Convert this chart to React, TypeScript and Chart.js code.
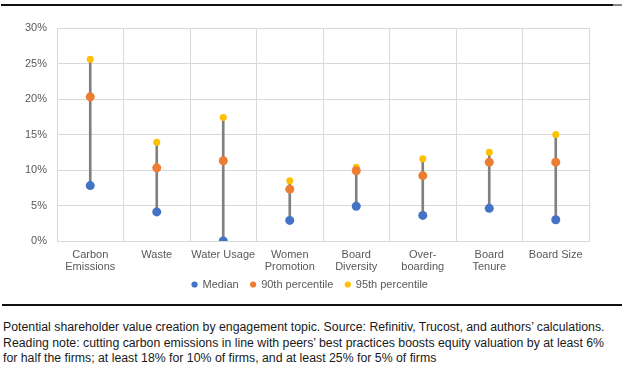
import React, { useEffect, useRef } from "react";
import { Chart, registerables } from "chart.js";

Chart.register(...registerables);

const categories: string[][] = [
  ["Carbon", "Emissions"],
  ["Waste"],
  ["Water Usage"],
  ["Women", "Promotion"],
  ["Board", "Diversity"],
  ["Over-", "boarding"],
  ["Board", "Tenure"],
  ["Board Size"],
];
const median = [7.8, 4.1, 0.0, 2.9, 4.9, 3.6, 4.6, 3.0];
const p90 = [20.3, 10.3, 11.3, 7.3, 9.9, 9.2, 11.1, 11.1];
const p95 = [25.6, 13.9, 17.4, 8.5, 10.4, 11.6, 12.5, 15.0];
const yTicks = [0, 5, 10, 15, 20, 25, 30];

const FONT = "'Liberation Sans', Arial, sans-serif";
const GRID = "#d9d9d9";
const TEXT = "#595959";

const unclipX = {
  id: "unclipX",
  afterLayout(chart: any) {
    const x = chart.scales.x;
    if (x) x.bottom = x.top + 40;
  },
};

export default function App() {
  const ref = useRef<HTMLCanvasElement>(null);
  useEffect(() => {
    if (!ref.current) return;
    const chart = new Chart(ref.current, {
      type: "line",
      plugins: [unclipX],
      data: {
        labels: categories as any,
        datasets: [
          {
            label: "Median",
            data: median,
            showLine: false,
            backgroundColor: "#4472C4",
            borderColor: "#4472C4",
            pointRadius: 4.5,
            pointBorderWidth: 0,
            pointStyle: "circle",
            order: 0,
          } as any,
          {
            label: "90th percentile",
            data: p90,
            showLine: false,
            backgroundColor: "#ED7D31",
            borderColor: "#ED7D31",
            pointRadius: 4.5,
            pointBorderWidth: 0,
            pointStyle: "circle",
            order: 0,
          },
          {
            label: "95th percentile",
            data: p95,
            showLine: false,
            backgroundColor: "#FFC000",
            borderColor: "#FFC000",
            pointRadius: 3.5,
            pointBorderWidth: 0,
            pointStyle: "circle",
            order: 0,
          },
          {
            type: "bar",
            label: "range",
            data: median.map((m, i) => [m, p95[i]]),
            backgroundColor: "#808080",
            barThickness: 2,
            order: 1,
          } as any,
        ],
      },
      options: {
        responsive: false,
        animation: false,
        devicePixelRatio: 1,
        layout: { padding: { left: 0, right: 4, top: 28, bottom: 0 } },
        plugins: {
          tooltip: { enabled: false },
          legend: {
            position: "bottom",
            labels: {
              filter: (item: any) => item.datasetIndex < 3,
              usePointStyle: true,
              boxWidth: 5,
              boxHeight: 4.4,
              padding: 12,
              color: TEXT,
              font: { family: FONT, size: 11 },
            },
          },
        },
        scales: {
          x: {
            type: "category",
            offset: true,
            grid: { offset: true, color: GRID, drawTicks: false, lineWidth: 1 },
            border: { color: GRID },
            ticks: {
              padding: 8,
              color: TEXT,
              maxRotation: 0,
              autoSkip: false,
              font: { family: FONT, size: 11, lineHeight: 1.1 },
            },
            afterFit: (s: any) => {
              s.height = 26;
            },
          },
          y: {
            min: 0,
            max: 30,
            afterBuildTicks: (s: any) => {
              s.ticks = yTicks.map((v) => ({ value: v }));
            },
            grid: { color: GRID, drawTicks: false },
            border: { color: GRID },
            ticks: {
              padding: 10,
              color: TEXT,
              font: { family: FONT, size: 11 },
              callback: (v: any) => v + "%",
            },
            afterFit: (s: any) => {
              s.width = 57;
            },
          },
          spacer: {
            type: "linear",
            position: "right",
            display: true,
            grid: { display: false, drawTicks: false },
            border: { display: false },
            ticks: { display: false },
            afterFit: (s: any) => {
              s.width = 31;
            },
          },
        },
      } as any,
    });
    return () => chart.destroy();
  }, []);

  return (
    <div style={{ position: "absolute", left: 0, top: 0, width: 624, height: 371, background: "#fff", overflow: "hidden" }}>
      <div style={{ position: "absolute", left: 1, top: 4, width: 612, height: 2, background: "#111" }} />
      <div style={{ position: "absolute", left: 613, top: 4, width: 9, height: 2, background: "#888" }} />
      <canvas ref={ref} width={624} height={300} style={{ position: "absolute", left: 0, top: 0, width: 624, height: 300 }} />
      <div style={{ position: "absolute", left: 2, top: 304, width: 620, height: 2, background: "#111" }} />
      <div
        style={{
          position: "absolute",
          left: 3,
          top: 320,
          fontFamily: FONT,
          fontSize: 12.3,
          lineHeight: "15.5px",
          color: "#1a1a1a",
          whiteSpace: "nowrap",
        }}
      >
        Potential shareholder value creation by engagement topic. Source: Refinitiv, Trucost, and authors’ calculations.
        <br />
        Reading note: cutting carbon emissions in line with peers’ best practices boosts equity valuation by at least 6%
        <br />
        for half the firms; at least 18% for 10% of firms, and at least 25% for 5% of firms
      </div>
    </div>
  );
}
